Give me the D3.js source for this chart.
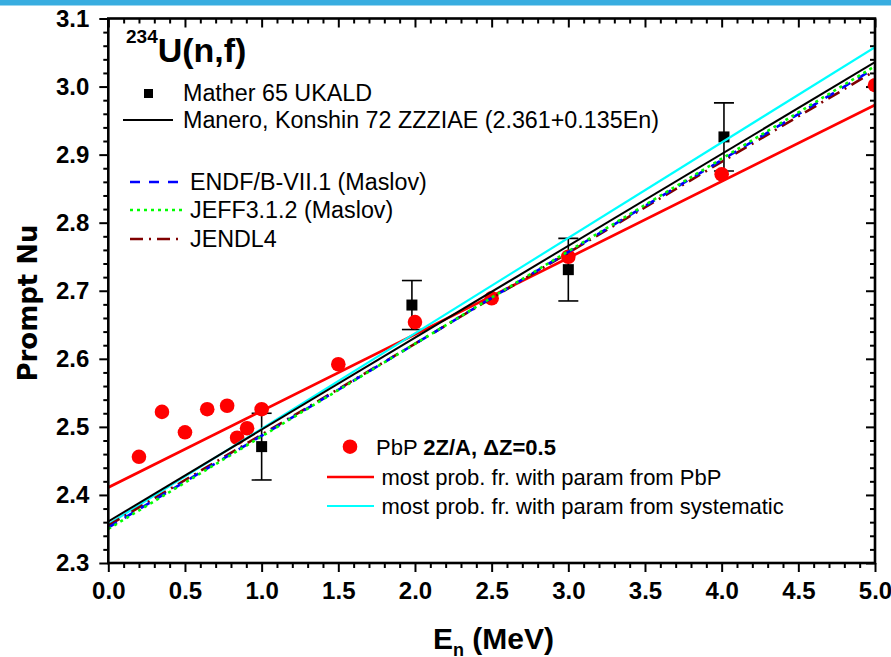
<!DOCTYPE html>
<html>
<head>
<meta charset="utf-8">
<script src="https://cdn.jsdelivr.net/npm/d3@7"></script>
<style>
  body { margin: 0; background: #fff; }
  svg { display: block; font-family: "Liberation Sans", Arial, sans-serif; }
</style>
</head>
<body>
<div id="chart"></div>
<script>
// Mather 65 UKALD (squares with error bars)
var matherE = [1.0, 1.98, 3.0, 4.015];
var matherNu = [2.471, 2.679, 2.731, 2.926];
var matherErr = [0.049, 0.036, 0.046, 0.05];

// PbP 2Z/A, dZ=0.5 (red circles)
var pbpE = [0.2, 0.35, 0.5, 0.645, 0.775, 0.84, 0.905, 1.0, 1.5, 2.0, 2.5, 3.0, 4.0, 5.0];
var pbpNu = [2.456, 2.522, 2.492, 2.526, 2.531, 2.484, 2.498, 2.526, 2.592, 2.654, 2.689, 2.75, 2.871, 3.002];

// straight lines, end points at En = 0 and 5 MeV
var lineE = [0, 5];
var maneroNu = [2.361, 3.036];
var endfNu = [2.352, 3.027];
var jeffNu = [2.350, 3.030];
var jendlNu = [2.355, 3.023];
var pbpFitNu = [2.411, 2.973];
var systNu = [2.357, 3.058];

var xMajor = [0, 0.5, 1.0, 1.5, 2.0, 2.5, 3.0, 3.5, 4.0, 4.5, 5.0];
var yMajor = [2.3, 2.4, 2.5, 2.6, 2.7, 2.8, 2.9, 3.0, 3.1];

var W = 891, H = 657;
var pLeft = 108.3, pRight = 875, pTop = 18.5, pBottom = 563;

var svg = d3.select("#chart").append("svg")
    .attr("width", W)
    .attr("height", H);

svg.append("defs").append("clipPath").attr("id", "plotclip")
    .append("rect")
    .attr("x", pLeft).attr("y", pTop)
    .attr("width", pRight - pLeft).attr("height", pBottom - pTop);

// blue band at the top of the slide
svg.append("rect")
    .attr("x", 0).attr("y", 0)
    .attr("width", W).attr("height", 5.5)
    .attr("fill", "#38ade0");

var x = d3.scaleLinear().domain([0, 5]).range([pLeft, pRight]);
var y = d3.scaleLinear().domain([2.3, 3.1]).range([pBottom, pTop]);

var xMinor = d3.range(0, 51).map(d => d / 10).filter(d => Math.round(d * 10) % 5 !== 0);
var yMinor = d3.range(115, 156).map(d => d / 50).filter(d => Math.round(d * 50) % 5 !== 0);

function styleAxis(g) {
    g.select(".domain").remove();
    g.selectAll(".tick line").attr("stroke", "#000").attr("stroke-width", 2);
    g.selectAll("text")
        .attr("fill", "#000")
        .style("font-family", "'Liberation Sans', Arial, sans-serif")
        .style("font-weight", "bold")
        .style("font-size", "24px");
}

// bottom axis
svg.append("g").attr("transform", "translate(0," + pBottom + ")")
    .call(d3.axisBottom(x).tickValues(xMajor).tickSize(9).tickPadding(10).tickFormat(d3.format(".1f")))
    .call(styleAxis);
svg.append("g").attr("transform", "translate(0," + pBottom + ")")
    .call(d3.axisBottom(x).tickValues(xMinor).tickSize(5).tickFormat(""))
    .call(styleAxis);
// top axis, ticks inward
svg.append("g").attr("transform", "translate(0," + pTop + ")")
    .call(d3.axisBottom(x).tickValues(xMajor).tickSize(9).tickFormat(""))
    .call(styleAxis);
svg.append("g").attr("transform", "translate(0," + pTop + ")")
    .call(d3.axisBottom(x).tickValues(xMinor).tickSize(5).tickFormat(""))
    .call(styleAxis);
// left axis
svg.append("g").attr("transform", "translate(" + pLeft + ",0)")
    .call(d3.axisLeft(y).tickValues(yMajor).tickSize(9).tickPadding(10).tickFormat(d3.format(".1f")))
    .call(styleAxis);
svg.append("g").attr("transform", "translate(" + pLeft + ",0)")
    .call(d3.axisLeft(y).tickValues(yMinor).tickSize(5).tickFormat(""))
    .call(styleAxis);
// right axis, ticks inward
svg.append("g").attr("transform", "translate(" + pRight + ",0)")
    .call(d3.axisLeft(y).tickValues(yMajor).tickSize(9).tickFormat(""))
    .call(styleAxis);
svg.append("g").attr("transform", "translate(" + pRight + ",0)")
    .call(d3.axisLeft(y).tickValues(yMinor).tickSize(5).tickFormat(""))
    .call(styleAxis);

// axis titles
svg.append("text")
    .attr("transform", "translate(37,303) rotate(-90)")
    .attr("text-anchor", "middle")
    .style("font-family", "'DejaVu Sans', Verdana, sans-serif")
    .style("font-weight", "bold")
    .style("font-size", "26px")
    .text("Prompt Nu");

var xt = svg.append("text")
    .attr("x", 433).attr("y", 649)
    .style("font-weight", "bold")
    .style("font-size", "30px");
xt.append("tspan").text("E");
xt.append("tspan").attr("dy", 7).style("font-size", "18px").text("n");
xt.append("tspan").attr("dy", -7).text(" (MeV)");

// title
var tt = svg.append("text")
    .attr("x", 126).attr("y", 62)
    .style("font-weight", "bold");
tt.append("tspan").attr("dy", -19).style("font-size", "19px").text("234");
tt.append("tspan").attr("dy", 19).style("font-size", "34px").text("U(n,f)");

var plot = svg.append("g").attr("clip-path", "url(#plotclip)");

// Mather data: error bars + squares
var mather = matherE.map((e, i) => ({ e: e, nu: matherNu[i], err: matherErr[i] }));
var eb = plot.append("g").attr("stroke", "#000").attr("stroke-width", 1.6);
eb.selectAll("line.v").data(mather).enter().append("line")
    .attr("x1", d => x(d.e)).attr("x2", d => x(d.e))
    .attr("y1", d => y(d.nu - d.err)).attr("y2", d => y(d.nu + d.err));
eb.selectAll("line.lo").data(mather).enter().append("line")
    .attr("x1", d => x(d.e) - 10).attr("x2", d => x(d.e) + 10)
    .attr("y1", d => y(d.nu - d.err)).attr("y2", d => y(d.nu - d.err));
eb.selectAll("line.hi").data(mather).enter().append("line")
    .attr("x1", d => x(d.e) - 10).attr("x2", d => x(d.e) + 10)
    .attr("y1", d => y(d.nu + d.err)).attr("y2", d => y(d.nu + d.err));
plot.selectAll("rect.sq").data(mather).enter().append("rect")
    .attr("x", d => x(d.e) - 5.5).attr("y", d => y(d.nu) - 5.5)
    .attr("width", 11).attr("height", 11)
    .attr("fill", "#000");

// PbP circles
plot.selectAll("circle.pbp").data(pbpE.map((e, i) => [e, pbpNu[i]])).enter().append("circle")
    .attr("cx", d => x(d[0])).attr("cy", d => y(d[1]))
    .attr("r", 7.3)
    .attr("fill", "#ff0000");

// lines
var line = d3.line().x(d => x(d[0])).y(d => y(d[1]));
var series = [
    { nu: pbpFitNu, color: "#ff0000", w: 2.7, dash: null },
    { nu: systNu, color: "#00ffff", w: 2.2, dash: null },
    { nu: maneroNu, color: "#000000", w: 2, dash: null },
    { nu: jendlNu, color: "#800000", w: 2.6, dash: "13,6,2,6" },
    { nu: endfNu, color: "#0000ff", w: 2.6, dash: "10,9" },
    { nu: jeffNu, color: "#00ff00", w: 2.6, dash: "3,4" }
];
series.forEach(s => {
    plot.append("path")
        .attr("d", line(lineE.map((e, i) => [e, s.nu[i]])))
        .attr("fill", "none")
        .attr("stroke", s.color)
        .attr("stroke-width", s.w)
        .attr("stroke-dasharray", s.dash);
});

// frame
svg.append("rect")
    .attr("x", pLeft).attr("y", pTop)
    .attr("width", pRight - pLeft).attr("height", pBottom - pTop)
    .attr("fill", "none").attr("stroke", "#000").attr("stroke-width", 2.6);

// legend 1
var lg = svg.append("g").style("font-size", "23.3px");
lg.append("rect").attr("x", 144).attr("y", 89).attr("width", 9).attr("height", 9).attr("fill", "#000");
lg.append("text").attr("x", 183).attr("y", 100.5).text("Mather 65 UKALD");
lg.append("line").attr("x1", 123).attr("x2", 173).attr("y1", 120).attr("y2", 120)
    .attr("stroke", "#000").attr("stroke-width", 2);
lg.append("text").attr("x", 183).attr("y", 128).text("Manero, Konshin 72 ZZZIAE (2.361+0.135En)");

// legend 2
var leg2 = [
    { label: "ENDF/B-VII.1 (Maslov)", color: "#0000ff", dash: "10,9", y: 182 },
    { label: "JEFF3.1.2 (Maslov)", color: "#00ff00", dash: "3,4", y: 210 },
    { label: "JENDL4", color: "#800000", dash: "13,6,2,6", y: 239 }
];
leg2.forEach(d => {
    lg.append("line").attr("x1", 130).attr("x2", 182).attr("y1", d.y).attr("y2", d.y)
        .attr("stroke", d.color).attr("stroke-width", 2.6).attr("stroke-dasharray", d.dash);
    lg.append("text").attr("x", 190).attr("y", d.y + 8.3).text(d.label);
});

// legend 3
var lg3 = svg.append("g").style("font-size", "22px");
lg3.append("circle").attr("cx", 350).attr("cy", 446.7).attr("r", 7.3).attr("fill", "#ff0000");
var t3 = lg3.append("text").attr("x", 376).attr("y", 455);
t3.append("tspan").text("PbP ");
t3.append("tspan").style("font-weight", "bold").text("2Z/A, \u0394Z=0.5");
lg3.append("line").attr("x1", 327).attr("x2", 374).attr("y1", 477).attr("y2", 477)
    .attr("stroke", "#ff0000").attr("stroke-width", 2.7);
lg3.append("text").attr("x", 381.5).attr("y", 485).text("most prob. fr. with param from PbP");
lg3.append("line").attr("x1", 327).attr("x2", 374).attr("y1", 506).attr("y2", 506)
    .attr("stroke", "#00ffff").attr("stroke-width", 2.2);
lg3.append("text").attr("x", 381.5).attr("y", 514).text("most prob. fr. with param from systematic");
</script>
</body>
</html>
